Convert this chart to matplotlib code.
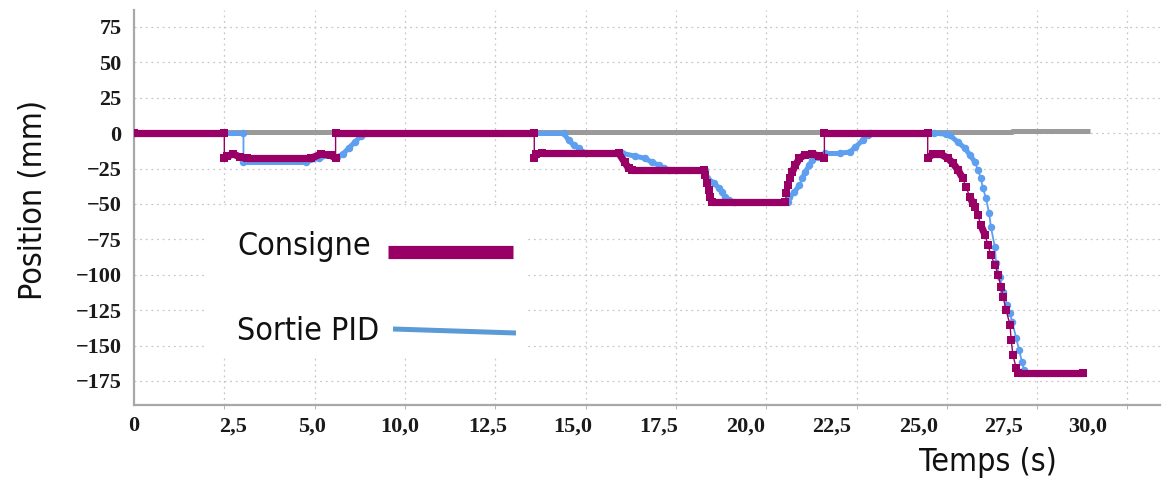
import matplotlib
matplotlib.use("Agg")
import matplotlib.pyplot as plt
from matplotlib.patches import Rectangle
from matplotlib.lines import Line2D
from matplotlib.ticker import FixedLocator

# ---------------- data ----------------
x_grid_pos = [2.5, 5, 7.5, 10, 12.5, 15, 17.5, 20, 22.5, 25, 27.5]
x_label_pos = [0, 2.73, 4.94, 7.35, 9.78, 12.15, 14.53, 16.93, 19.31, 21.71, 24.06, 26.41]
x_tick_labels = ['0', '2,5', '5,0', '10,0', '12,5', '15,0', '17,5', '20,0',
                 '22,5', '25,0', '27,5', '30,0']
y_ticks = [75, 50, 25, 0, -25, -50, -75, -100, -125, -150, -175]

consigne_t = [0, 2.50, 2.50, 2.58, 2.75, 2.94, 3.14, 4.90, 5.17, 5.44, 5.58, 5.58,
              11.08, 11.08, 11.14, 11.28, 13.42, 13.58, 13.69, 13.78,
              15.78, 15.81, 15.86, 15.92, 15.94, 16.00,
              18.03, 18.06, 18.11, 18.17, 18.22, 18.31, 18.42, 18.56, 18.78, 18.97, 19.11, 19.11,
              21.97, 21.97, 22.11, 22.33, 22.53, 22.67, 22.81, 22.94, 23.03, 23.14, 23.22,
              23.28, 23.36, 23.44, 23.56, 23.64, 23.72, 23.83, 23.92, 24.00, 24.06, 24.14,
              24.25, 24.28, 24.33, 24.42, 24.47, 26.28]
consigne_y = [0, 0, -17.7, -16.2, -14.8, -16.9, -17.7, -17.7, -14.8, -15.5, -17.7, 0,
              0, -17.7, -14.8, -14.1, -14.1, -20.5, -24.7, -26.1,
              -26.1, -29.7, -35.3, -40.3, -45.2, -48.7,
              -48.7, -42.4, -36.7, -31.8, -27.5, -22.6, -17.7, -15.5, -14.8, -16.2, -17.7, 0,
              0, -17.7, -14.8, -14.8, -17.7, -21.2, -26.1, -31.8, -38.1, -45.2, -49.4,
              -52.3, -57.9, -65.0, -72.0, -79.1, -86.2, -93.2, -100.3, -108.8, -115.8, -125.0,
              -135.6, -146.2, -156.8, -166.0, -169.5, -169.5]

sortie_t = [0, 3.03, 3.03, 4.75, 5.11, 5.44, 5.61, 5.78, 5.94, 6.11, 6.28, 6.39,
            11.89, 12.03, 12.17, 12.31, 12.39, 12.50,
            13.50, 13.86, 14.14, 14.33, 14.53, 14.67, 14.80,
            15.80, 15.86, 16.06, 16.19, 16.28, 16.36, 16.47, 16.60,
            18.10, 18.14, 18.28, 18.42, 18.50, 18.58, 18.69, 18.78, 18.92, 19.14,
            19.53, 19.81, 19.97, 20.17, 20.31, 20.36,
            22.14, 22.47, 22.58, 22.81, 23.00, 23.14, 23.28,
            23.36, 23.44, 23.50, 23.58, 23.67, 23.72, 23.83, 23.86, 23.97, 24.06,
            24.17, 24.25, 24.31, 24.42, 24.50, 24.58, 24.64]
sortie_y = [0, 0, -20.5, -20.5, -17.7, -15.5, -16.9, -14.8, -10.6, -6.4, -2.1, 0,
            0, -4.9, -8.5, -10.6, -13.4, -14.1,
            -14.1, -16.2, -17.7, -20.5, -22.6, -24.7, -26.1,
            -26.1, -31.8, -35.3, -38.8, -41.7, -45.2, -47.3, -48.7,
            -48.7, -45.2, -41.7, -36.7, -31.8, -27.5, -22.6, -19.1, -16.9, -14.1,
            -14.1, -13.4, -9.9, -4.9, -1.4, 0,
            0, -0.7, -1.4, -6.4, -10.6, -15.5, -20.5,
            -26.1, -31.8, -38.8, -45.9, -56.5, -66.4, -80.5, -91.8, -101.7, -112.3,
            -121.5, -127.1, -133.5, -144.8, -153.2, -161.7, -167.4]

ecart_t = [0, 24.3, 24.3, 26.47]
ecart_y = [0.7, 0.7, 1.4, 1.4]

legend_labels = ['Consigne', 'Sortie PID']

# ---------------- style ----------------
PURPLE = '#990066'
BLUE = '#5e9ff0'
GREY = '#9a9a9a'
tick_font = 'Liberation Serif'
label_kw = dict(family=['DejaVu Sans'], fontstretch='condensed', fontweight='light',
                fontsize=23, color='#111111')

fig = plt.figure(figsize=(11.63, 4.87), dpi=100)
ax = fig.add_axes([134 / 1163, 1 - 405 / 487, (1160 - 134) / 1163, (405 - 10) / 487])
ax.set_xlim(0, 28.4)
ax.set_ylim(-192, 87)


def draw_series(t, y, color, thin, thick, marker, ms, z, steep=60):
    ax.plot(t, y, color=color, lw=thin, zorder=z)
    for i in range(len(t) - 1):
        dt = t[i + 1] - t[i]
        if dt > 0 and abs(y[i + 1] - y[i]) / dt < steep:
            ax.plot([t[i], t[i + 1]], [y[i], y[i + 1]], color=color, lw=thick,
                    solid_capstyle='round', zorder=z)
    ax.plot(t, y, ls='none', marker=marker, ms=ms, color=color,
            markeredgewidth=0, zorder=z + 0.1)


ax.plot(ecart_t, ecart_y, color=GREY, lw=3.6, zorder=3, solid_capstyle='butt')
draw_series(sortie_t, sortie_y, BLUE, 1.3, 3.6, 'o', 5.4, 4)
draw_series(consigne_t, consigne_y, PURPLE, 1.0, 5.2, 's', 5.8, 5)

# x: labels at their printed places, grid/ticks every 2.5
ax.set_xticks(x_label_pos)
ax.set_xticklabels(x_tick_labels)
ax.xaxis.set_minor_locator(FixedLocator(x_grid_pos))
ax.set_yticks(y_ticks)
ax.grid(False)
ax.xaxis.grid(True, which='minor', ls=(0, (1.5, 3)), color='#c8c8c8', lw=0.9, zorder=0)
ax.yaxis.grid(True, which='major', ls=(0, (1.5, 3)), color='#c8c8c8', lw=0.9, zorder=0)
for lab in ax.get_xticklabels() + ax.get_yticklabels():
    lab.set_fontfamily(tick_font)
    lab.set_fontweight('bold')
    lab.set_fontsize(16)
    lab.set_color('#1a1a1a')
ax.tick_params(axis='x', which='major', length=0, pad=8)
ax.tick_params(axis='x', which='minor', length=3, color='#aaaaaa')
ax.tick_params(axis='y', length=0, pad=9)
for s in ['top', 'right']:
    ax.spines[s].set_visible(False)
for s in ['left', 'bottom']:
    ax.spines[s].set_color('#a8a8a8')
    ax.spines[s].set_linewidth(1.6)

# legend box
fig.patches.append(Rectangle((205 / 1163, 1 - 357 / 487), (525 - 205) / 1163,
                             (357 - 207) / 487, transform=fig.transFigure,
                             facecolor='white', edgecolor='none', zorder=2))
fig.text(237 / 1163, 1 - 246 / 487, legend_labels[0], va='center', ha='left',
         zorder=6, **label_kw)
fig.text(237 / 1163, 1 - 331 / 487, legend_labels[1], va='center', ha='left',
         zorder=6, **label_kw)
fig.lines.append(Line2D([388 / 1163, 513 / 1163], [1 - 252 / 487, 1 - 252 / 487],
                        transform=fig.transFigure, color=PURPLE, lw=9.5,
                        solid_capstyle='butt', zorder=6))
fig.lines.append(Line2D([393 / 1163, 516 / 1163], [1 - 329 / 487, 1 - 333 / 487],
                        transform=fig.transFigure, color='#5b9bd5', lw=3.6,
                        solid_capstyle='butt', zorder=6))

# axis titles
fig.text(33 / 1163, 1 - 200 / 487, 'Position (mm)', rotation=90, va='center',
         ha='center', **label_kw)
fig.text(988 / 1163, 1 - 462 / 487, 'Temps (s)', va='center', ha='center', **label_kw)

fig.savefig('out.png', dpi=100)
